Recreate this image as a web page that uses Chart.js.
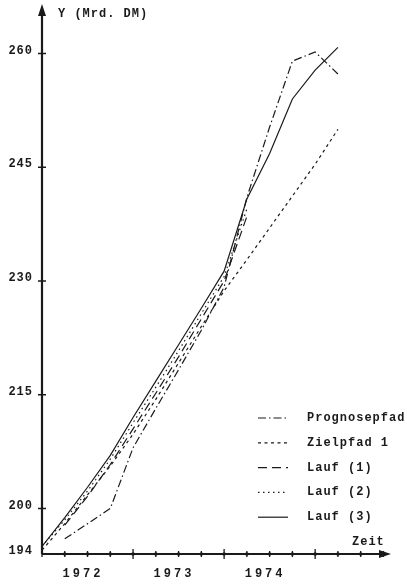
<!DOCTYPE html>
<html>
<head>
<meta charset="utf-8">
<script src="https://cdn.jsdelivr.net/npm/chart.js@4"></script>
<style>
  html, body { margin: 0; padding: 0; background: #fff; }
  canvas { display: block; }
</style>
</head>
<body>
<canvas id="chart" width="407" height="585"></canvas>
<script>
/* ── Data (quarters since start of 1972) ───────────────────────── */
var quarters   = [0, 1, 2, 3, 4, 5, 6, 7, 8, 9, 10, 11, 12, 13];
var prognose   = [null, 196, 198, 200, 208, 213.2, 218.3, 223.5, 229.2, 241, 250.3, 259, 260.2, 257.3];
var zielpfad   = [194.5, 198, 201.8, 205.6, 209.8, 214.4, 219.2, 224, 228.7, 232.8, 237, 241.2, 245.4, 250];
var lauf1      = [null, 197.8, 201.6, 205.8, 210.5, 215.2, 220, 225, 230, 238.5, null, null, null, null];
var lauf2      = [195, 198.5, 202.3, 206.5, 211.3, 216, 220.8, 225.7, 230.6, 239.5, null, null, null, null];
var lauf3      = [195, 198.8, 202.8, 207, 212, 216.8, 221.6, 226.4, 231.3, 240.8, 246.8, 254, 257.8, 260.8];

var seriesNames = ['Prognosepfad', 'Zielpfad 1', 'Lauf (1)', 'Lauf (2)', 'Lauf (3)'];
var yTicks      = [194, 200, 215, 230, 245, 260];
var xTicks      = [0, 1, 2, 3, 4, 5, 6, 7, 8, 9, 10, 11, 12, 13, 14, 15];
var yearLabels  = ['1972', '1973', '1974'];
var yAxisTitle  = 'Y (Mrd. DM)';
var xAxisTitle  = 'Zeit';

var INK  = '#1a1a1a';
var FONT = "bold 12px 'Liberation Mono', 'DejaVu Sans Mono', monospace";

function pts(arr) {
    var out = [];
    quarters.forEach(function (q, i) {
        if (arr[i] !== null) out.push({ x: q, y: arr[i] });
    });
    return out;
}

function ds(label, arr, dash, width) {
    return {
        label: label,
        data: pts(arr),
        borderColor: INK,
        borderWidth: width,
        borderDash: dash,
        pointRadius: 0,
        tension: 0,
        fill: false,
    };
}

/* ── Axes, ticks, labels and legend ────────────────────────────── */
var paperPlugin = {
    id: 'paper',
    afterDatasetsDraw: function (chart) {
        var ctx = chart.ctx;
        var xs = chart.scales.x, ys = chart.scales.y;
        var x0 = xs.getPixelForValue(0);
        var y0 = ys.getPixelForValue(194);
        var xEnd = xs.right, yTop = chart.chartArea.top;

        ctx.save();
        ctx.strokeStyle = INK;
        ctx.fillStyle = INK;
        ctx.setLineDash([]);

        // axis lines
        ctx.lineWidth = 2.2;
        ctx.beginPath();
        ctx.moveTo(x0, y0);
        ctx.lineTo(x0, yTop + 6);
        ctx.moveTo(x0, y0);
        ctx.lineTo(xEnd - 4, y0);
        ctx.stroke();

        // arrow heads
        ctx.beginPath();
        ctx.moveTo(x0, yTop - 4);
        ctx.lineTo(x0 - 4, yTop + 8);
        ctx.lineTo(x0 + 4, yTop + 8);
        ctx.closePath();
        ctx.fill();
        ctx.beginPath();
        ctx.moveTo(xEnd + 3, y0);
        ctx.lineTo(xEnd - 9, y0 - 4);
        ctx.lineTo(xEnd - 9, y0 + 4);
        ctx.closePath();
        ctx.fill();

        // tick marks
        ctx.lineWidth = 1.3;
        ctx.beginPath();
        yTicks.forEach(function (v) {
            if (v === 194) return;
            var y = ys.getPixelForValue(v);
            ctx.moveTo(x0 - 4, y);
            ctx.lineTo(x0 + 4, y);
        });
        xTicks.forEach(function (q) {
            var x = xs.getPixelForValue(q);
            var h = (q > 0 && q % 4 === 0) ? 5 : 3;
            ctx.moveTo(x, y0 - h);
            ctx.lineTo(x, y0 + h);
        });
        ctx.stroke();
        xTicks.forEach(function (q) {
            if (q === 0) return;
            ctx.beginPath();
            ctx.arc(xs.getPixelForValue(q), y0, 1.8, 0, Math.PI * 2);
            ctx.fill();
        });

        // texts
        ctx.font = FONT;
        ctx.letterSpacing = '1px';
        ctx.textBaseline = 'middle';
        ctx.textAlign = 'right';
        yTicks.forEach(function (v) {
            ctx.fillText(String(v), x0 - 9, ys.getPixelForValue(v) - 3);
        });
        ctx.textAlign = 'left';
        ctx.fillText(yAxisTitle, x0 + 16, yTop + 6);
        ctx.fillText(xAxisTitle, 352, y0 - 12);
        ctx.letterSpacing = '3px';
        ctx.textAlign = 'center';
        yearLabels.forEach(function (t, i) {
            ctx.fillText(t, xs.getPixelForValue(i * 4 + 1.8), y0 + 20);
        });

        // legend
        ctx.letterSpacing = '1px';
        ctx.textAlign = 'left';
        chart.data.datasets.forEach(function (d, i) {
            var y = 418 + i * 24.8;
            ctx.lineWidth = d.borderWidth;
            ctx.setLineDash(d.borderDash || []);
            ctx.beginPath();
            ctx.moveTo(258, y);
            ctx.lineTo(288, y);
            ctx.stroke();
            ctx.setLineDash([]);
            ctx.fillText(d.label, 307, y);
        });
        ctx.restore();
    },
};

new Chart(document.getElementById('chart'), {
    type: 'line',
    data: {
        datasets: [
            ds(seriesNames[0], prognose, [8, 3, 1.5, 3], 1.2),
            ds(seriesNames[1], zielpfad, [3, 3.5], 1.2),
            ds(seriesNames[2], lauf1,    [9, 5], 1.2),
            ds(seriesNames[3], lauf2,    [1.5, 3.5], 1.2),
            ds(seriesNames[4], lauf3,    [], 1.2),
        ],
    },
    options: {
        responsive: false,
        animation: false,
        layout: { padding: { left: 42, right: 19, top: 8, bottom: 31 } },
        plugins: {
            legend:  { display: false },
            tooltip: { enabled: false },
        },
        scales: {
            x: { type: 'linear', min: 0, max: 15.2, display: false },
            y: { type: 'linear', min: 194, max: 266, display: false },
        },
    },
    plugins: [paperPlugin],
});
</script>
</body>
</html>
